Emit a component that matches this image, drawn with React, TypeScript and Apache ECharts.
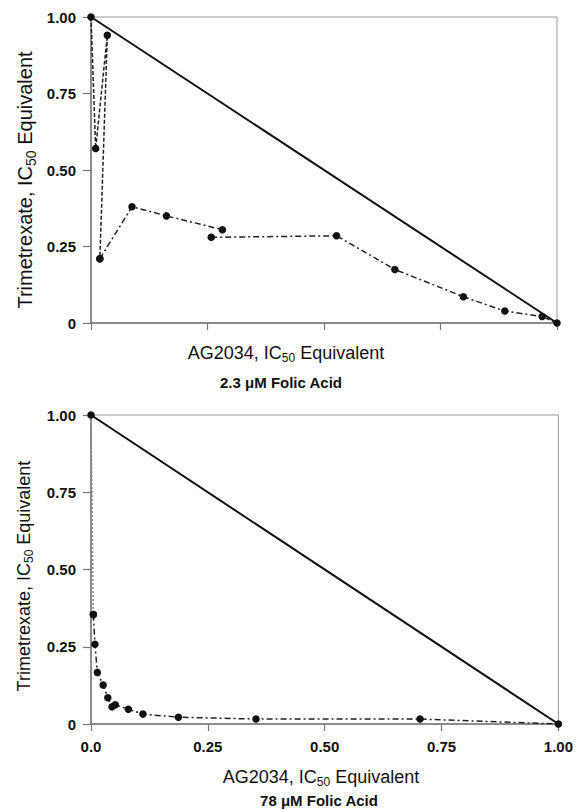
import React, { useEffect, useRef } from "react";
import * as echarts from "echarts";

// Top panel (2.3 μM Folic Acid)
const topDiagX = [0, 1];
const topDiagY = [1, 0];
const topS1X = [0, 0.01, 0.035, 0.019];
const topS1Y = [1.0, 0.57, 0.94, 0.21];
const topS2X = [0.019, 0.088, 0.162, 0.282];
const topS2Y = [0.21, 0.38, 0.35, 0.305];
const topS3X = [0.258, 0.527, 0.652, 0.799, 0.888, 0.968, 1.0];
const topS3Y = [0.28, 0.285, 0.175, 0.086, 0.039, 0.021, 0];

// Bottom panel (78 μM Folic Acid)
const botDiagX = [0, 1];
const botDiagY = [1, 0];
const botS1X = [0, 0.005];
const botS1Y = [1.0, 0.354];
const botS2X = [0.005, 0.0085, 0.0135, 0.026, 0.036, 0.045, 0.052, 0.08, 0.111, 0.187, 0.353, 0.704, 1.0];
const botS2Y = [0.354, 0.258, 0.167, 0.126, 0.085, 0.056, 0.062, 0.048, 0.032, 0.022, 0.016, 0.016, 0];

const yTicks = [0, 0.25, 0.5, 0.75, 1.0];
const xTicks = [0, 0.25, 0.5, 0.75, 1.0];

const xAxisName = "AG2034, IC{sub|50} Equivalent";
const yAxisName = "Trimetrexate, IC{sub|50} Equivalent";
const topTitle = "2.3 μM Folic Acid";
const botTitle = "78 μM Folic Acid";

const FONT = "'Liberation Sans', Arial, Helvetica, sans-serif";

const zip = (xs: number[], ys: number[]) => xs.map((x, i) => [x, ys[i]]);

export default function App() {
  const ref = useRef<HTMLDivElement>(null);
  useEffect(() => {
    document.body.style.margin = "0";
    const chart = echarts.init(ref.current!, null, { renderer: "svg" });
    const axisColor = "#777";
    const mkX = (gridIndex: number, showLabel: boolean) => ({
      gridIndex,
      type: "value",
      min: 0,
      max: 1,
      interval: 0.25,
      axisLine: { show: true, lineStyle: { color: axisColor, width: 1.5 } },
      axisTick: { show: true, length: 7, lineStyle: { color: axisColor, width: 1.2 } },
      splitLine: { show: false },
      axisLabel: {
        show: showLabel,
        margin: 15,
        color: "#111",
        fontWeight: "bold",
        fontSize: 15,
        fontFamily: FONT,
        formatter: (v: number) => (v === 0 ? "0.0" : xTicks.includes(v) ? v.toFixed(2) : ""),
      },
    });
    const mkY = (gridIndex: number) => ({
      gridIndex,
      type: "value",
      min: 0,
      max: 1,
      interval: 0.25,
      axisLine: { show: true, lineStyle: { color: axisColor, width: 1.5 } },
      axisTick: { show: true, length: 8, lineStyle: { color: axisColor, width: 1.2 } },
      splitLine: { show: false },
      axisLabel: {
        margin: 15,
        color: "#111",
        fontWeight: "bold",
        fontSize: 15,
        fontFamily: FONT,
        formatter: (v: number) => (v === 0 ? "0" : yTicks.includes(v) ? v.toFixed(2) : ""),
      },
    });
    const dataSeries = (
      xs: number[],
      ys: number[],
      idx: number,
      dash: number[] | string,
      color = "#222",
      width = 1.5
    ) => ({
      type: "line",
      xAxisIndex: idx,
      yAxisIndex: idx,
      data: zip(xs, ys),
      clip: false,
      symbol: "circle",
      symbolSize: 7.5,
      itemStyle: { color: "#111" },
      lineStyle: { color, width, type: dash },
      z: 3,
    });
    const diag = (xs: number[], ys: number[], idx: number) => ({
      type: "line",
      xAxisIndex: idx,
      yAxisIndex: idx,
      data: zip(xs, ys),
      clip: false,
      symbol: "none",
      lineStyle: { color: "#111", width: 2, type: "solid" },
      z: 2,
    });
    const rich = (size: number) => ({
      sub: { fontSize: Math.round(size * 0.68), fontFamily: FONT, fill: "#111", padding: [Math.round(size * 0.55), 0, 0, 0] },
    });
    const txt = (text: string, x: number, y: number, size: number, bold: boolean, rotation = 0) => ({
      type: "text",
      x,
      y,
      rotation,
      style: {
        text,
        fill: "#111",
        font: `${bold ? "bold " : ""}${size}px ${FONT}`,
        fontSize: size,
        fontWeight: bold ? "bold" : "normal",
        fontFamily: FONT,
        align: "center",
        verticalAlign: "middle",
        rich: rich(size),
      },
    });
    chart.setOption({
      animation: false,
      backgroundColor: "#fff",
      grid: [
        { left: 91, top: 17, width: 466, height: 306, show: true, borderColor: "#999", borderWidth: 1 },
        { left: 91, top: 415, width: 469, height: 309, show: true, borderColor: "#999", borderWidth: 1 },
      ],
      xAxis: [mkX(0, false), mkX(1, true)],
      yAxis: [mkY(0), mkY(1)],
      series: [
        diag(topDiagX, topDiagY, 0),
        dataSeries(topS1X, topS1Y, 0, [4, 2]),
        dataSeries(topS2X, topS2Y, 0, [6, 3, 2, 3]),
        dataSeries(topS3X, topS3Y, 0, [6, 3, 2, 3]),
        diag(botDiagX, botDiagY, 1),
        dataSeries(botS1X, botS1Y, 1, [2, 2], "#888", 1.5),
        dataSeries(botS2X, botS2Y, 1, [6, 3, 2, 3]),
      ],
      graphic: [
        txt(xAxisName, 286, 353, 18, false),
        txt(topTitle, 281, 382, 15, true),
        txt(yAxisName, 25, 180, 20, false, Math.PI / 2),
        txt(xAxisName, 321, 777, 18, false),
        txt(botTitle, 319, 800, 15, true),
        txt(yAxisName, 24, 576, 18, false, Math.PI / 2),
      ],
    });
    return () => chart.dispose();
  }, []);
  return <div ref={ref} style={{ width: 576, height: 810 }} />;
}
